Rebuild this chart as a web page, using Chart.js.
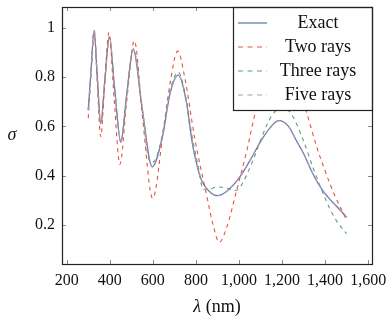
<!DOCTYPE html>
<html>
<head>
<meta charset="utf-8">
<script src="https://cdn.jsdelivr.net/npm/chart.js@4.4.1/dist/chart.umd.min.js"></script>
<style>
  html, body { margin: 0; padding: 0; background: #fff; }
  #wrap { position: relative; width: 387px; height: 323px; }
</style>
</head>
<body>
<div id="wrap"><canvas id="sigmaChart"></canvas></div>
<script>
// cross section vs wavelength
const exactLambda = [300, 313, 327, 342, 358, 377, 398, 423, 451, 478, 509, 550, 597, 645, 680, 718, 757, 772, 788, 803, 820, 840, 870, 900, 940, 1000, 1050, 1105, 1145, 1185, 1230, 1268, 1300, 1345, 1385, 1422, 1460, 1500];
const exactSigma  = [0.666, 0.827, 0.988, 0.80, 0.612, 0.787, 0.962, 0.749, 0.535, 0.724, 0.912, 0.674, 0.436, 0.56, 0.734, 0.808, 0.693, 0.598, 0.51, 0.45, 0.395, 0.36, 0.33, 0.319, 0.335, 0.39, 0.46, 0.545, 0.595, 0.623, 0.60, 0.54, 0.49, 0.405, 0.345, 0.305, 0.27, 0.232];

const twoLambda = [300, 313, 328, 342, 358, 376, 396, 420, 447, 478, 514, 553, 599, 652, 680, 715, 750, 795, 850, 880, 908, 943, 989, 1036, 1079, 1130, 1195, 1260, 1311, 1360, 1400, 1440, 1500];
const twoSigma  = [0.633, 0.81, 0.99, 0.774, 0.558, 0.77, 0.981, 0.714, 0.446, 0.697, 0.947, 0.628, 0.308, 0.607, 0.775, 0.905, 0.79, 0.55, 0.32, 0.20, 0.13, 0.19, 0.34, 0.50, 0.666, 0.80, 0.86, 0.80, 0.666, 0.52, 0.42, 0.33, 0.22];

const threeLambda = [300, 313, 327, 342, 358, 377, 398, 423, 451, 478, 509, 550, 580, 597, 612, 645, 680, 718, 757, 780, 810, 834, 865, 895, 940, 985, 1010, 1066, 1113, 1150, 1195, 1240, 1298, 1345, 1390, 1420, 1455, 1500];
const threeSigma  = [0.666, 0.827, 0.985, 0.80, 0.61, 0.787, 0.962, 0.749, 0.538, 0.724, 0.915, 0.68, 0.47, 0.455, 0.465, 0.57, 0.745, 0.82, 0.70, 0.57, 0.44, 0.345, 0.345, 0.355, 0.35, 0.34, 0.36, 0.464, 0.572, 0.64, 0.675, 0.655, 0.545, 0.43, 0.33, 0.27, 0.215, 0.165];

const fiveLambda = [300, 313, 327, 342, 358, 377, 398, 423, 451, 478, 509, 550, 597, 645, 680, 718, 757, 772, 788, 803, 820, 840, 870, 900, 940, 1000, 1050, 1105, 1145, 1185, 1230, 1268, 1300, 1345, 1385, 1422, 1460, 1500];
const fiveSigma  = [0.666, 0.827, 0.988, 0.80, 0.612, 0.787, 0.962, 0.749, 0.535, 0.724, 0.912, 0.674, 0.436, 0.56, 0.734, 0.808, 0.693, 0.598, 0.51, 0.45, 0.395, 0.36, 0.33, 0.319, 0.335, 0.39, 0.46, 0.545, 0.595, 0.623, 0.60, 0.54, 0.49, 0.405, 0.345, 0.305, 0.27, 0.232];

const xTicks = [200, 400, 600, 800, 1000, 1200, 1400, 1600];
const yTicks = [0.2, 0.4, 0.6, 0.8, 1];

const seriesNames = ["Exact", "Two rays", "Three rays", "Five rays"];
const seriesColors = ["#5f7fb0", "#e5553d", "#5f9e7c", "#bd8fb0"];

const serif = "'Liberation Serif', 'DejaVu Serif', serif";

const toPoints = (xs, ys) => xs.map((x, i) => ({ x: x, y: ys[i] }));

const makeSet = (idx, xs, ys, dashed) => ({
    label: seriesNames[idx],
    data: toPoints(xs, ys),
    borderColor: seriesColors[idx],
    borderWidth: dashed ? 1.1 : 1.3,
    borderDash: dashed ? [4, 4] : [],
    pointRadius: 0,
    fill: false,
    cubicInterpolationMode: "monotone",
    order: 4 - idx
});

// frame, inward ticks, axis titles, legend box
const decorPlugin = {
    id: "decor",
    afterDraw(chart) {
        const ctx = chart.ctx;
        const a = chart.chartArea;
        const xs = chart.scales.x, ys = chart.scales.y;
        ctx.save();

        // ticks on all four sides
        ctx.strokeStyle = "#8a8a8a";
        ctx.lineWidth = 1;
        xTicks.forEach(v => {
            const px = Math.round(xs.getPixelForValue(v)) + 0.5;
            ctx.beginPath();
            ctx.moveTo(px, a.bottom); ctx.lineTo(px, a.bottom - 4);
            ctx.moveTo(px, a.top); ctx.lineTo(px, a.top + 4);
            ctx.stroke();
        });
        yTicks.forEach(v => {
            const py = Math.round(ys.getPixelForValue(v)) + 0.5;
            ctx.beginPath();
            ctx.moveTo(a.left, py); ctx.lineTo(a.left + 4, py);
            ctx.moveTo(a.right, py); ctx.lineTo(a.right - 4, py);
            ctx.stroke();
        });

        // legend
        const lw = 139, lh = 103;
        const lx = a.right - lw, ly = a.top;
        ctx.fillStyle = "#fff";
        ctx.fillRect(lx, ly, lw, lh);
        ctx.font = "18px " + serif;
        ctx.textAlign = "center";
        ctx.textBaseline = "middle";
        seriesNames.forEach((name, i) => {
            const ry = ly + 16 + i * 24;
            ctx.strokeStyle = seriesColors[i];
            ctx.lineWidth = i === 0 ? 1.3 : 1.1;
            ctx.setLineDash(i === 0 ? [] : [5, 4.5]);
            ctx.beginPath();
            ctx.moveTo(lx + 5, ry); ctx.lineTo(lx + 34, ry);
            ctx.stroke();
            ctx.setLineDash([]);
            ctx.fillStyle = "#111";
            ctx.fillText(name, lx + 85, ry);
        });
        ctx.strokeStyle = "#222";
        ctx.lineWidth = 1.2;
        ctx.strokeRect(Math.round(lx) + 0.5, Math.round(ly) + 0.5, lw, lh);

        // frame
        ctx.strokeRect(Math.round(a.left) + 0.5, Math.round(a.top) + 0.5,
            Math.round(a.right - a.left), Math.round(a.bottom - a.top));

        // axis titles
        ctx.fillStyle = "#111";
        ctx.textBaseline = "middle";
        ctx.font = "italic 18px " + serif;
        ctx.textAlign = "center";
        ctx.fillText("\u03c3", 12, (a.top + a.bottom) / 2);

        const cx = (a.left + a.right) / 2;
        ctx.font = "italic 18px " + serif;
        const lamW = ctx.measureText("\u03bb ").width;
        ctx.font = "18px " + serif;
        const restW = ctx.measureText("(nm)").width;
        const startX = cx - (lamW + restW) / 2;
        ctx.textAlign = "left";
        ctx.font = "italic 18px " + serif;
        ctx.fillText("\u03bb ", startX, 307);
        ctx.font = "18px " + serif;
        ctx.fillText("(nm)", startX + lamW, 307);

        ctx.restore();
    }
};

new Chart(document.getElementById("sigmaChart"), {
    type: "line",
    data: {
        datasets: [
            makeSet(0, exactLambda, exactSigma, false),
            makeSet(1, twoLambda, twoSigma, true),
            makeSet(2, threeLambda, threeSigma, true),
            makeSet(3, fiveLambda, fiveSigma, true)
        ]
    },
    options: {
        responsive: true,
        maintainAspectRatio: false,
        animation: false,
        layout: { padding: { top: 7, right: 15, left: 0, bottom: 0 } },
        plugins: { legend: { display: false }, tooltip: { enabled: false } },
        scales: {
            x: {
                type: "linear",
                min: 178,
                max: 1618,
                grid: { display: false, drawTicks: false },
                border: { display: false },
                afterBuildTicks: s => { s.ticks = xTicks.map(v => ({ value: v })); },
                afterFit: s => { s.height = 59; s.paddingLeft = 0; s.paddingRight = 0; },
                ticks: {
                    padding: 7,
                    maxRotation: 0,
                    autoSkip: false,
                    color: "#111",
                    font: { family: serif, size: 16 },
                    callback: v => v.toLocaleString("en-US")
                }
            },
            y: {
                type: "linear",
                min: 0.042,
                max: 1.084,
                grid: { display: false, drawTicks: false },
                border: { display: false },
                afterBuildTicks: s => { s.ticks = yTicks.map(v => ({ value: v })); },
                afterFit: s => { s.width = 62; s.paddingTop = 0; s.paddingBottom = 0; },
                ticks: {
                    padding: 7,
                    autoSkip: false,
                    color: "#111",
                    font: { family: serif, size: 16 },
                    callback: v => (v === 1 ? "1" : v.toFixed(1))
                }
            }
        }
    },
    plugins: [decorPlugin]
});
</script>
</body>
</html>
